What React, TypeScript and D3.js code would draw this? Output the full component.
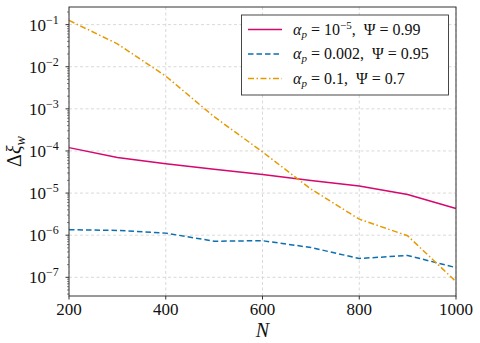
import React from "react";
import * as d3 from "d3";

// system sizes N and the resulting Δξ_w for each (α_p, Ψ) setting
const sizes = [200, 300, 400, 500, 600, 700, 800, 900, 1000];
const lowAlpha = [1.2e-4, 7.0e-5, 5.0e-5, 3.7e-5, 2.75e-5, 2.0e-5, 1.47e-5, 9.3e-6, 4.3e-6];
const midAlpha = [1.35e-6, 1.3e-6, 1.12e-6, 7.2e-7, 7.4e-7, 5.1e-7, 2.8e-7, 3.3e-7, 1.7e-7];
const highAlpha = [0.126, 0.035, 6.0e-3, 6.5e-4, 9.5e-5, 1.25e-5, 2.4e-6, 9.7e-7, 7.9e-8];

const xTicks = [200, 400, 600, 800, 1000];
const yExponents = [-7, -6, -5, -4, -3, -2, -1];

const series = [
  { values: lowAlpha, color: "#d6076e", dash: "none", alpha: ["10", "−5"], psi: "0.99" },
  { values: midAlpha, color: "#0c6fb0", dash: "5.5,3", alpha: ["0.002", ""], psi: "0.95" },
  { values: highAlpha, color: "#e69a00", dash: "6,2.5,1.5,2.5", alpha: ["0.1", ""], psi: "0.7" },
];

const W = 480;
const H = 343;
const m = { left: 69, right: 456, top: 7, bottom: 296 };
const FONT = "Liberation Serif";
const axisColor = "#333";

export default function App() {
  const x = d3.scaleLinear().domain([200, 1000]).range([m.left, m.right]);
  const y = d3.scaleLog().domain([3.6e-8, 0.262]).range([m.bottom, m.top]);

  const line = d3
    .line<number>()
    .x((_, i) => x(sizes[i]))
    .y((d) => y(d));

  // minor log ticks 2..9 in every decade inside the domain
  const minor: number[] = [];
  for (let e = -8; e <= 0; e++) {
    for (let k = 2; k <= 9; k++) {
      const v = k * Math.pow(10, e);
      if (v >= y.domain()[0] && v <= y.domain()[1]) minor.push(v);
    }
  }

  return (
    <svg width={W} height={H} style={{ position: "absolute", left: 0, top: 0, background: "#fff" }}>
      {/* grid */}
      <g stroke="#cfcfcf" strokeWidth={0.8} strokeDasharray="3,2.5">
        {xTicks.map((t) => (
          <line key={"gx" + t} x1={x(t)} x2={x(t)} y1={m.top} y2={m.bottom} />
        ))}
        {yExponents.map((e) => (
          <line key={"gy" + e} x1={m.left} x2={m.right} y1={y(Math.pow(10, e))} y2={y(Math.pow(10, e))} />
        ))}
      </g>

      {/* data */}
      <g fill="none" strokeWidth={1.5}>
        {series.map((s, i) => (
          <path key={i} d={line(s.values) || ""} stroke={s.color} strokeDasharray={s.dash} />
        ))}
      </g>

      {/* frame */}
      <rect
        x={m.left}
        y={m.top}
        width={m.right - m.left}
        height={m.bottom - m.top}
        fill="none"
        stroke={axisColor}
        strokeWidth={1}
      />

      {/* x axis */}
      {xTicks.map((t) => (
        <g key={"tx" + t}>
          <line x1={x(t)} x2={x(t)} y1={m.bottom} y2={m.bottom + 3.5} stroke={axisColor} />
          <text x={x(t)} y={m.bottom + 19} fontSize={17} fontFamily={FONT} fill="#111" textAnchor="middle">
            {String(t)}
          </text>
        </g>
      ))}
      <text
        x={(m.left + m.right) / 2}
        y={337}
        fontSize={20}
        fontStyle="italic"
        fontFamily={FONT}
        fill="#111"
        textAnchor="middle"
      >
        N
      </text>

      {/* y axis */}
      {minor.map((v, i) => (
        <line key={"mn" + i} x1={m.left - 2} x2={m.left} y1={y(v)} y2={y(v)} stroke={axisColor} strokeWidth={0.6} />
      ))}
      {yExponents.map((e) => {
        const yy = y(Math.pow(10, e));
        return (
          <g key={"ty" + e}>
            <line x1={m.left - 3.5} x2={m.left} y1={yy} y2={yy} stroke={axisColor} />
            <text x={29} y={yy + 6} fontSize={17} fontFamily={FONT} fill="#111">
              10
              <tspan dy={-7} fontSize={12}>{"−" + Math.abs(e)}</tspan>
            </text>
          </g>
        );
      })}
      <text
        transform={`translate(21,${(m.top + m.bottom) / 2}) rotate(-90)`}
        textAnchor="middle"
        fontSize={20}
        fontFamily={FONT}
        fill="#111"
      >
        Δ<tspan fontStyle="italic">ξ</tspan>
        <tspan fontStyle="italic" fontSize={14} dy={4}>w</tspan>
      </text>

      {/* legend */}
      <rect x={241.5} y={15} width={207} height={80} fill="#fff" stroke={axisColor} strokeWidth={0.9} />
      {series.map((s, i) => {
        const ly = 29.5 + i * 24.5;
        return (
          <g key={"lg" + i}>
            <line x1={248} x2={282} y1={ly} y2={ly} stroke={s.color} strokeWidth={1.5} strokeDasharray={s.dash} />
            <text x={293} y={ly + 5} fontSize={16} fill="#111" fontFamily={FONT}>
              <tspan fontStyle="italic">α</tspan>
              <tspan fontStyle="italic" fontSize={11} dy={3}>p</tspan>
              <tspan dy={-3}>{" = " + s.alpha[0]}</tspan>
              {s.alpha[1] ? <tspan dy={-6} fontSize={11}>{s.alpha[1]}</tspan> : null}
              <tspan dy={s.alpha[1] ? 6 : 0}>{",\u2002Ψ = " + s.psi}</tspan>
            </text>
          </g>
        );
      })}
    </svg>
  );
}
